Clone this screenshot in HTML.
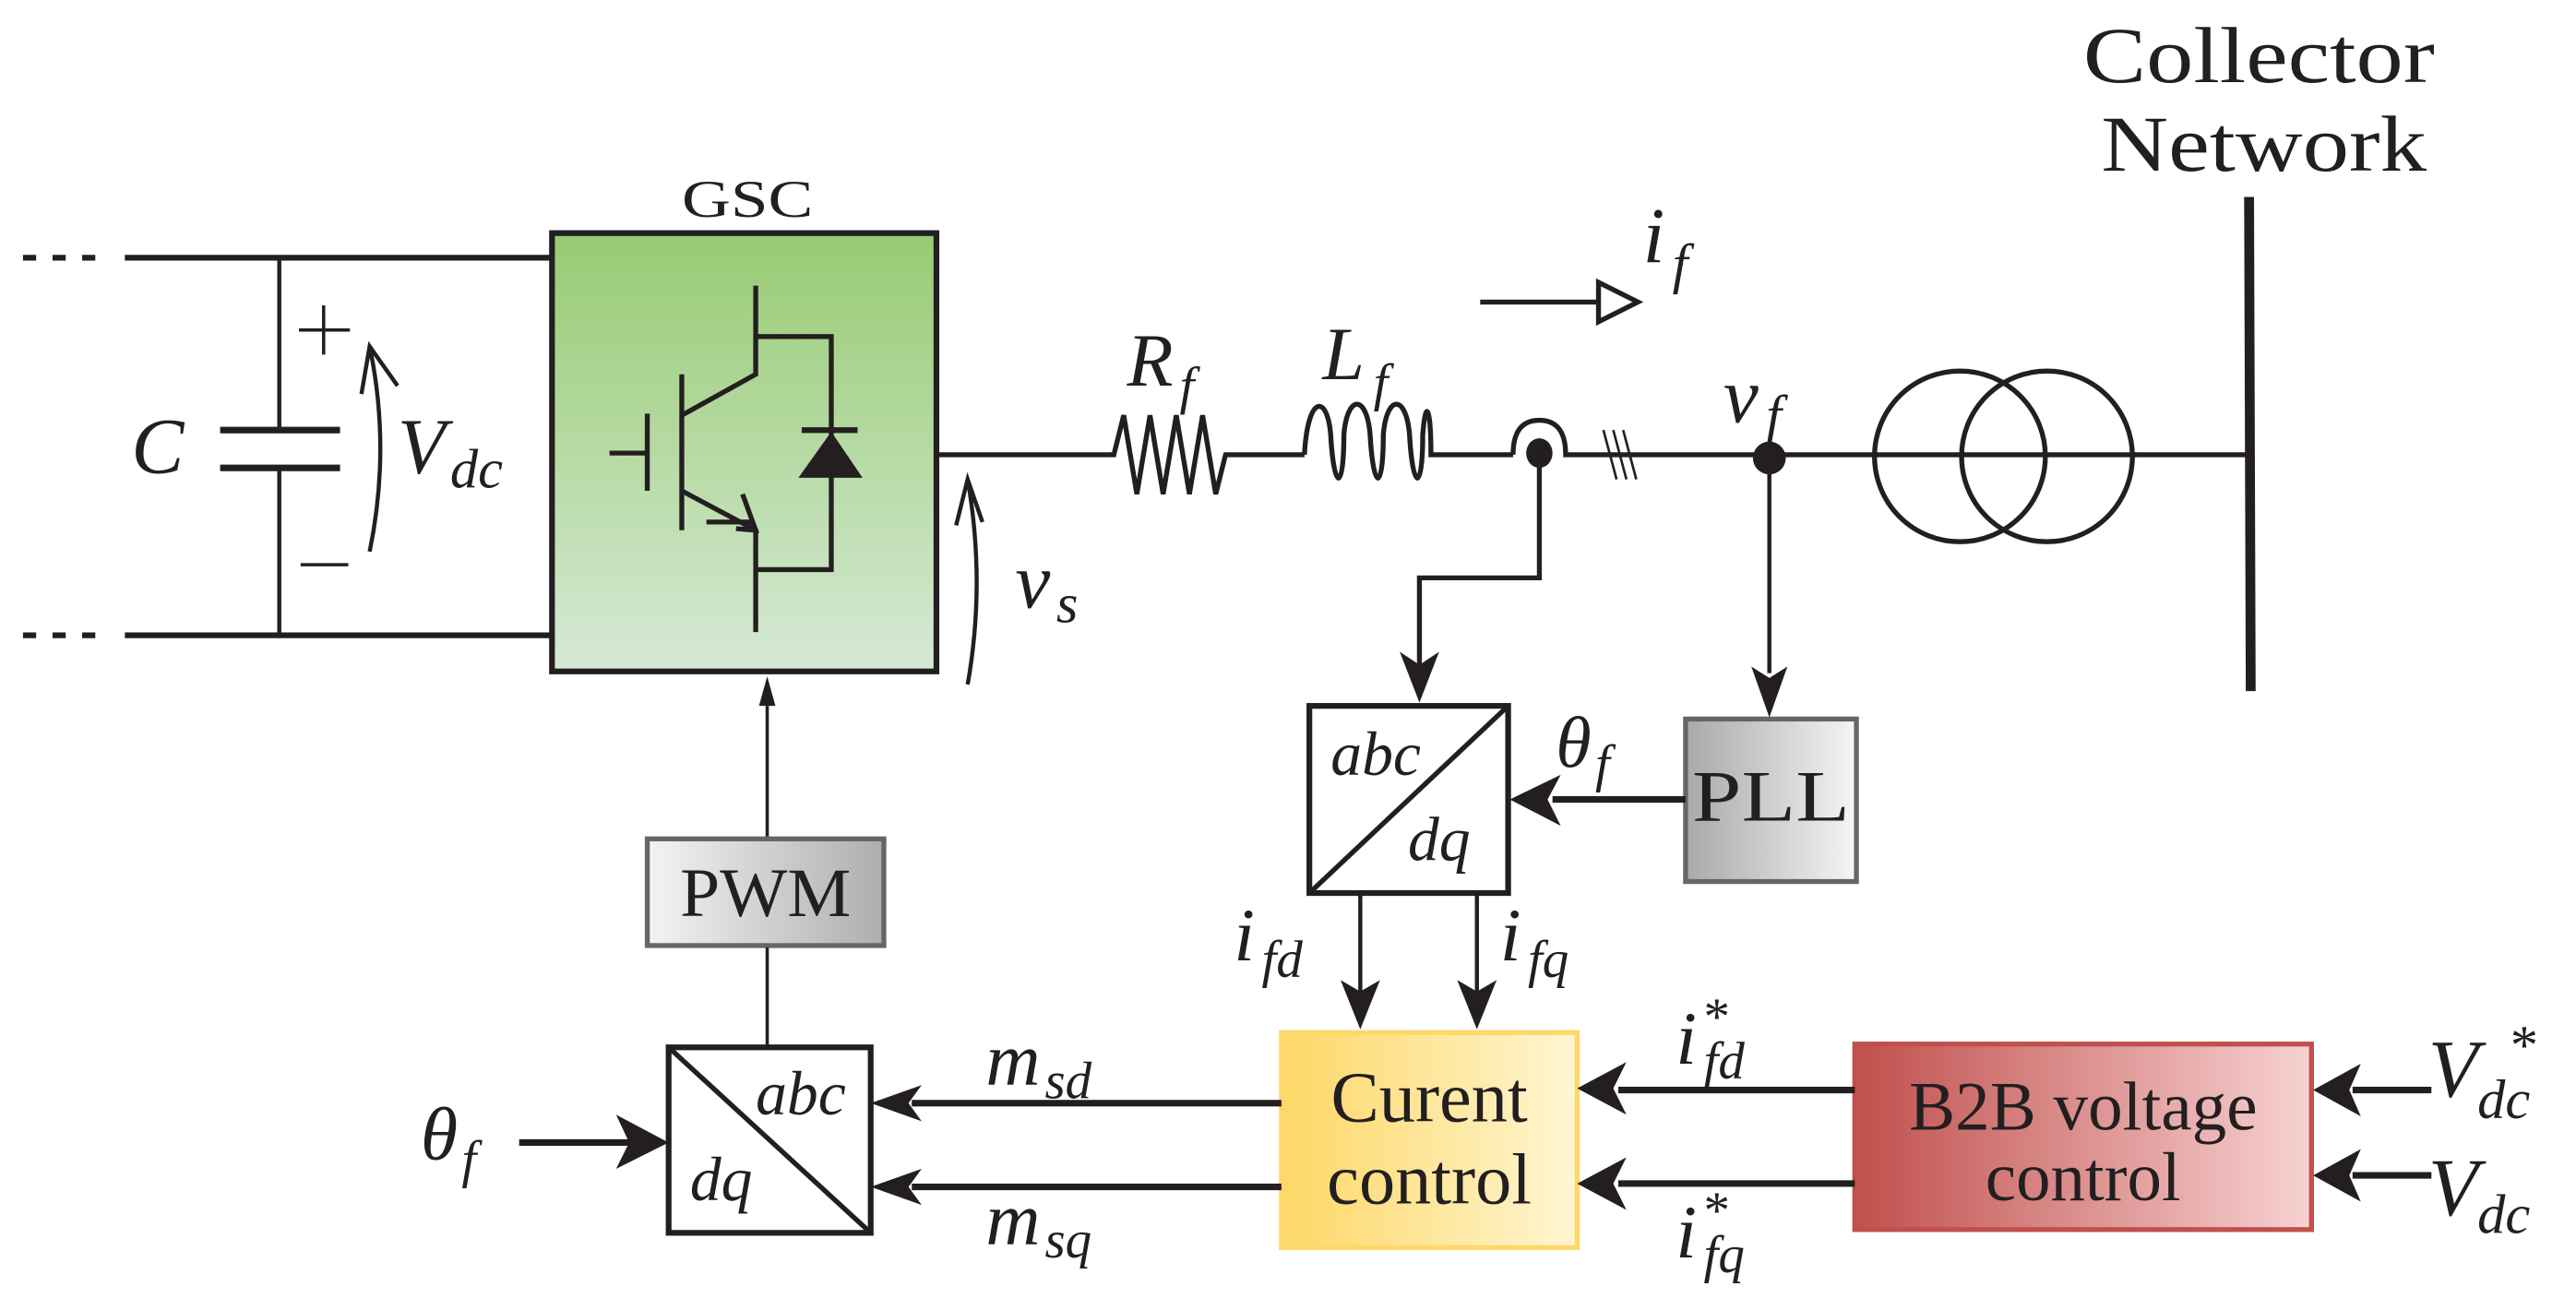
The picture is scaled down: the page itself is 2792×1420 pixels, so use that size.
<!DOCTYPE html>
<html><head><meta charset="utf-8"><style>
html,body{margin:0;padding:0;background:#fff;}
svg{display:block;}
text{font-family:"Liberation Serif","DejaVu Serif",serif;fill:#231f20;}
.m{font-style:italic;}
</style></head><body>
<svg width="2792" height="1420" viewBox="0 0 1568 798" preserveAspectRatio="none" xmlns="http://www.w3.org/2000/svg" font-family="Liberation Serif, serif">
<defs>
<linearGradient id="gG" x1="0" y1="0" x2="0" y2="1"><stop offset="0" stop-color="#97cb72"/><stop offset="1" stop-color="#d6e9d6"/></linearGradient>
<linearGradient id="gPWM" x1="0" y1="0" x2="1" y2="0"><stop offset="0" stop-color="#f3f3f3"/><stop offset="1" stop-color="#aeaeae"/></linearGradient>
<linearGradient id="gPLL" x1="0" y1="0" x2="1" y2="0"><stop offset="0" stop-color="#a9a9a9"/><stop offset="1" stop-color="#f5f5f5"/></linearGradient>
<linearGradient id="gY" x1="0" y1="0" x2="1" y2="0"><stop offset="0" stop-color="#fdd766"/><stop offset="1" stop-color="#fff6d2"/></linearGradient>
<linearGradient id="gR" x1="0" y1="0" x2="1" y2="0"><stop offset="0" stop-color="#c0504d"/><stop offset="1" stop-color="#f7d2d2"/></linearGradient>
</defs>
<g stroke="#231f20" fill="none" stroke-width="3">
<path d="M14 157H22M32 157H40M50 157H58M76 157H336" stroke-width="3.5"/>
<path d="M14 387H22M32 387H40M50 387H58M76 387H336" stroke-width="3.5"/>
<path d="M170 157V262M170 285V387" stroke-width="2.5"/>
<path d="M134 262H207M134 285H207" stroke-width="4"/>
<path d="M197 186V216M182 201H213M183 344H212" stroke-width="2"/>
<path d="M225 336Q238 273 225 211M220 240L225 211L242 235" stroke-width="2.5"/>
<rect x="336" y="142" width="234" height="267" fill="url(#gG)" stroke-width="3.5"/>
<path d="M460 174V228L415 253M415 228V323M394 252V299M371 276H394M415 299L460 323V385M460 205H506V347H460" stroke-width="3"/>
<path d="M448 322L460 323L452 301" stroke-width="3"/>
<path d="M430 318H458" stroke-width="3"/>
<polygon points="486,291 525,291 506,263" fill="#231f20" stroke="none"/>
<path d="M488 262H522" stroke-width="3.5"/>
<path d="M570 277H678L684 253L692 301L700 253L708 301L716 253L724 301L732 253L740 301L746 277H794" stroke-width="3"/>
<path d="M794 277C796 240 808 240 810 265C812 300 818 300 818 265C820 240 832 240 834 265C836 300 842 300 842 265C844 240 856 240 858 265C860 300 866 300 866 265C868 240 871 250 871 277H921" stroke-width="3"/>
<path d="M921 277Q921 256 937 256Q953 256 953 277H1301" stroke-width="3"/>
<ellipse cx="937" cy="276" rx="8" ry="9" fill="#231f20" stroke="none"/>
<path d="M976 262L984 292M982 262L990 292M988 262L996 292" stroke-width="1.5"/>
<circle cx="1077" cy="279" r="10" fill="#231f20" stroke="none"/>
<circle cx="1193" cy="278" r="52" stroke-width="3"/>
<circle cx="1246" cy="278" r="52" stroke-width="3"/>
<path d="M1299 277H1369" stroke-width="3"/>
<path d="M1369 120L1370 421" stroke-width="6"/>
<path d="M589 417Q600 355 589 292M582 320L589 292L598 318" stroke-width="2.5"/>
<path d="M901 184H973" stroke-width="3"/>
<polygon points="973,172 997,184 973,196" fill="#fff" stroke-width="3"/>
<path d="M937 276V352H864V405" stroke-width="3"/>
<path d="M1077 279V410" stroke-width="2.5"/>
<path d="M467 510V430" stroke-width="2"/>
<polygon points="467,412 462,430 472,430" fill="#231f20" stroke="none"/>
<rect x="394" y="511" width="144" height="65" fill="url(#gPWM)" stroke="#666" stroke-width="3"/>
<path d="M467 577V638" stroke-width="2"/>
<rect x="407" y="638" width="123" height="113" fill="#fff" stroke-width="3.5"/>
<path d="M407 638L530 751" stroke-width="3"/>
<rect x="797" y="430" width="121" height="114" fill="#fff" stroke-width="3.5"/>
<path d="M797 544L918 430" stroke-width="3"/>
<rect x="1026" y="438" width="104" height="99" fill="url(#gPLL)" stroke="#666" stroke-width="3"/>
<path d="M1026 487H945" stroke-width="4"/>
<path d="M828 544V605M899 544V605" stroke-width="2.5"/>
<rect x="780" y="629" width="180" height="131" fill="url(#gY)" stroke="#fdd86a" stroke-width="3"/>
<rect x="1129" y="636" width="278" height="113" fill="url(#gR)" stroke="#c0504d" stroke-width="3"/>
<path d="M780 672H555M780 723H555" stroke-width="4"/>
<path d="M1129 664H985M1129 721H985" stroke-width="4"/>
<path d="M1480 664H1432M1480 716H1432" stroke-width="4"/>
<path d="M316 696H400" stroke-width="4"/>
</g>
<g fill="#231f20">
<path d="M864 428L852 397L864 405L876 397Z"/>
<path d="M1077 437L1066 406L1077 413L1088 406Z"/>
<path d="M919 487L950 472L942 487L950 503Z"/>
<path d="M828 627L816 597L828 604L840 597Z"/>
<path d="M899 627L887 597L899 604L911 597Z"/>
<path d="M530 672L561 661L553 672L561 683Z"/>
<path d="M530 723L561 712L553 723L561 734Z"/>
<path d="M960 663L990 647L982 663L990 679Z"/>
<path d="M960 721L990 705L982 721L990 737Z"/>
<path d="M1408 664L1437 648L1430 664L1437 680Z"/>
<path d="M1408 716L1437 700L1430 716L1437 732Z"/>
<path d="M407 696L375 679L383 696L375 712Z"/>
</g>
<text x="455" y="132" font-size="32" text-anchor="middle" textLength="80" lengthAdjust="spacingAndGlyphs">GSC</text>
<text x="80" y="288" font-size="48" class="m">C</text>
<text x="242" y="288" font-size="48" class="m">V</text><text x="274" y="297" font-size="34" class="m">dc</text>
<text x="686" y="235" font-size="46" class="m">R</text><text x="718" y="246" font-size="32" class="m">f</text>
<text x="805" y="231" font-size="46" class="m">L</text><text x="836" y="244" font-size="32" class="m">f</text>
<text x="1000" y="160" font-size="48" class="m">i</text><text x="1018" y="172" font-size="34" class="m">f</text>
<text x="1049" y="257" font-size="48" class="m">v</text><text x="1075" y="264" font-size="34" class="m">f</text>
<text x="618" y="370" font-size="48" class="m">v</text><text x="643" y="379" font-size="34" class="m">s</text>
<text x="1375" y="50" font-size="48" text-anchor="middle" textLength="214" lengthAdjust="spacingAndGlyphs">Collector</text>
<text x="1378" y="104" font-size="48" text-anchor="middle" textLength="198" lengthAdjust="spacingAndGlyphs">Network</text>
<text x="947" y="467" font-size="44" class="m">θ</text><text x="971" y="476" font-size="32" class="m">f</text>
<text x="1078" y="500" font-size="44" text-anchor="middle" textLength="96" lengthAdjust="spacingAndGlyphs">PLL</text>
<text x="466" y="558" font-size="42" text-anchor="middle" textLength="104" lengthAdjust="spacingAndGlyphs">PWM</text>
<text x="810" y="472" font-size="38" class="m">abc</text>
<text x="857" y="524" font-size="38" class="m">dq</text>
<text x="460" y="679" font-size="38" class="m">abc</text>
<text x="420" y="731" font-size="38" class="m">dq</text>
<text x="256" y="706" font-size="46" class="m">θ</text><text x="281" y="717" font-size="32" class="m">f</text>
<text x="751" y="585" font-size="46" class="m">i</text><text x="768" y="595" font-size="32" class="m">fd</text>
<text x="913" y="585" font-size="46" class="m">i</text><text x="930" y="595" font-size="32" class="m">fq</text>
<text x="600" y="661" font-size="46" class="m">m</text><text x="636" y="669" font-size="32" class="m">sd</text>
<text x="600" y="758" font-size="46" class="m">m</text><text x="636" y="766" font-size="32" class="m">sq</text>
<text x="870" y="683" font-size="44" text-anchor="middle">Curent</text>
<text x="870" y="733" font-size="44" text-anchor="middle">control</text>
<text x="1268" y="688" font-size="42" text-anchor="middle" textLength="212" lengthAdjust="spacingAndGlyphs">B2B voltage</text>
<text x="1268" y="731" font-size="42" text-anchor="middle">control</text>
<text x="1020" y="648" font-size="46" class="m">i</text><text x="1037" y="630" font-size="32">*</text><text x="1037" y="657" font-size="32" class="m">fd</text>
<text x="1020" y="766" font-size="46" class="m">i</text><text x="1037" y="748" font-size="32">*</text><text x="1037" y="775" font-size="32" class="m">fq</text>
<text x="1478" y="668" font-size="50" class="m">V</text><text x="1528" y="648" font-size="34">*</text><text x="1508" y="681" font-size="34" class="m">dc</text>
<text x="1478" y="740" font-size="50" class="m">V</text><text x="1508" y="751" font-size="34" class="m">dc</text>
</svg>
</body></html>
